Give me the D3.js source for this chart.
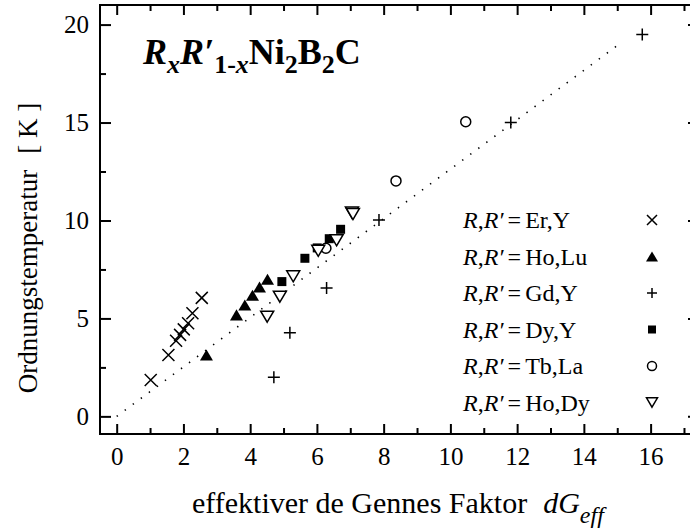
<!DOCTYPE html>
<html>
<head>
<meta charset="utf-8">
<script src="https://cdn.jsdelivr.net/npm/d3@7"></script>
<style>
  html, body { margin: 0; padding: 0; background: #fff; }
  svg { display: block; font-family: "Liberation Serif", "Times New Roman", serif; }
</style>
</head>
<body>
<svg id="chart" width="690" height="532"></svg>
<script>
// Ordering temperature vs. effective de Gennes factor for mixed RR'Ni2B2C
const erY_dG  = [1.02, 1.55, 1.78, 1.90, 2.01, 2.14, 2.27, 2.55];
const erY_T   = [1.86, 3.13, 3.86, 4.16, 4.44, 4.75, 5.26, 6.05];
const hoLu_dG = [2.69, 3.59, 3.84, 4.07, 4.28, 4.52];
const hoLu_T  = [3.13, 5.18, 5.69, 6.18, 6.60, 7.00];
const gdY_dG  = [4.71, 5.19, 6.29, 7.86, 11.81, 15.75];
const gdY_T   = [2.00, 4.27, 6.55, 10.03, 15.00, 19.50];
const dyY_dG  = [4.95, 5.64, 6.01, 6.37, 6.71];
const dyY_T   = [6.88, 8.07, 8.60, 9.07, 9.55];
const tbLa_dG = [6.27, 8.37, 10.46];
const tbLa_T  = [8.58, 12.02, 15.04];
const hoDy_dG = [4.51, 4.89, 5.29, 6.04, 6.59, 7.05, 7.08];
const hoDy_T  = [5.09, 6.11, 7.15, 8.45, 8.99, 10.40, 10.33];

const legendLabels = ["Er,Y", "Ho,Lu", "Gd,Y", "Dy,Y", "Tb,La", "Ho,Dy"];
const symbolKinds  = ["cross", "triUp", "plus", "square", "circle", "triDown"];

// guide line T = k * dG
const guideSlope = 1.262;
const guideEnd = 15.1;

const xTicksMajor = [0, 2, 4, 6, 8, 10, 12, 14, 16];
const xTicksMinor = [1, 3, 5, 7, 9, 11, 13, 15, 17];
const yTicksMajor = [0, 5, 10, 15, 20];
const yTicksMinor = [2.5, 7.5, 12.5, 17.5];

const series = [
  {dG: erY_dG, T: erY_T},
  {dG: hoLu_dG, T: hoLu_T},
  {dG: gdY_dG, T: gdY_T},
  {dG: dyY_dG, T: dyY_T},
  {dG: tbLa_dG, T: tbLa_T},
  {dG: hoDy_dG, T: hoDy_T}
];

const svg = d3.select("#chart");
const plotL = 100, plotR = 699, plotT = 5, plotB = 434;

const x = d3.scaleLinear().domain([-0.5, 17.45]).range([plotL, plotR]);
const y = d3.scaleLinear().domain([-0.9, 21]).range([plotB, plotT]);

// marker path generators, centred on their bounding box
function markerPath(kind, s) {
  const h = s / 2;
  switch (kind) {
    case "cross":  return `M${-h},${-h}L${h},${h}M${-h},${h}L${h},${-h}`;
    case "plus":   return `M${-h},0L${h},0M0,${-h}L0,${h}`;
    case "square": return `M${-h},${-h}H${h}V${h}H${-h}Z`;
    case "triUp":  { const v = h * 0.85; return `M0,${-v}L${h},${v}L${-h},${v}Z`; }
    case "triDown":{ const v = h * 0.85; return `M0,${v}L${h},${-v}L${-h},${-v}Z`; }
  }
}
function drawMarker(g, kind, cx, cy, s) {
  if (kind === "circle") {
    return g.append("circle").attr("cx", cx).attr("cy", cy).attr("r", s / 2)
      .attr("fill", "#fff").attr("stroke", "#000").attr("stroke-width", 1.5);
  }
  const p = g.append("path").attr("d", markerPath(kind, s))
    .attr("transform", `translate(${cx},${cy})`);
  if (kind === "triUp" || kind === "square") p.attr("fill", "#000").attr("stroke", "none");
  else if (kind === "triDown") p.attr("fill", "#fff").attr("stroke", "#000").attr("stroke-width", 1.5);
  else p.attr("fill", "none").attr("stroke", "#000").attr("stroke-width", 1.5);
  return p;
}

// dotted guide line
svg.append("line")
  .attr("x1", x(0)).attr("y1", y(0))
  .attr("x2", x(guideEnd)).attr("y2", y(guideSlope * guideEnd))
  .attr("stroke", "#000").attr("stroke-width", 1.6)
  .attr("stroke-dasharray", "1.4,8.6");

// data markers
const markerSize = {cross: 12, plus: 12, square: 9, circle: 10, triUp: 13, triDown: 13};
const dataG = svg.append("g");
series.forEach((s, i) => {
  const kind = symbolKinds[i];
  s.dG.forEach((v, j) => drawMarker(dataG, kind, x(v), y(s.T[j]), markerSize[kind]));
});

// axes with inward ticks
function styleAxis(g) {
  g.select(".domain").remove();
  g.selectAll(".tick line").attr("stroke", "#000").attr("stroke-width", 2);
  g.selectAll("text").attr("fill", "#000");
}
const tickFont = 25;
// bottom
svg.append("g").attr("transform", `translate(0,${plotB})`)
  .call(d3.axisBottom(x).tickValues(xTicksMajor).tickSize(-10).tickPadding(0).tickFormat(d3.format("d")))
  .call(styleAxis)
  .call(g => g.selectAll("text").attr("y", 31).attr("dy", null)
    .attr("font-size", tickFont).attr("font-family", "Liberation Serif"));
svg.append("g").attr("transform", `translate(0,${plotB})`)
  .call(d3.axisBottom(x).tickValues(xTicksMinor).tickSize(-6).tickFormat(""))
  .call(styleAxis);
// top
svg.append("g").attr("transform", `translate(0,${plotT})`)
  .call(d3.axisTop(x).tickValues(xTicksMajor).tickSize(-10).tickFormat(""))
  .call(styleAxis);
svg.append("g").attr("transform", `translate(0,${plotT})`)
  .call(d3.axisTop(x).tickValues(xTicksMinor).tickSize(-6).tickFormat(""))
  .call(styleAxis);
// left
svg.append("g").attr("transform", `translate(${plotL},0)`)
  .call(d3.axisLeft(y).tickValues(yTicksMajor).tickSize(-11).tickPadding(0).tickFormat(d3.format("d")))
  .call(styleAxis)
  .call(g => g.selectAll("text").attr("x", -11).attr("dy", "0.33em")
    .attr("font-size", tickFont).attr("font-family", "Liberation Serif"));
svg.append("g").attr("transform", `translate(${plotL},0)`)
  .call(d3.axisLeft(y).tickValues(yTicksMinor).tickSize(-6).tickFormat(""))
  .call(styleAxis);
// right
svg.append("g").attr("transform", `translate(${plotR},0)`)
  .call(d3.axisRight(y).tickValues(yTicksMajor).tickSize(-11).tickFormat(""))
  .call(styleAxis);
svg.append("g").attr("transform", `translate(${plotR},0)`)
  .call(d3.axisRight(y).tickValues(yTicksMinor).tickSize(-6).tickFormat(""))
  .call(styleAxis);

// frame
svg.append("rect")
  .attr("x", plotL).attr("y", plotT).attr("width", plotR - plotL).attr("height", plotB - plotT)
  .attr("fill", "none").attr("stroke", "#000").attr("stroke-width", 2);

// formula title
const title = svg.append("text").attr("x", 143).attr("y", 64)
  .attr("font-size", 36).attr("font-weight", "bold").attr("fill", "#000");
const sub = 9, subSize = 26;
title.append("tspan").attr("font-style", "italic").text("R");
title.append("tspan").attr("font-style", "italic").attr("font-size", subSize).attr("dy", sub).text("x");
title.append("tspan").attr("font-style", "italic").attr("dy", -sub).text("R\u2032");
title.append("tspan").attr("font-size", subSize).attr("dy", sub).text("1-");
title.append("tspan").attr("font-size", subSize).attr("font-style", "italic").text("x");
title.append("tspan").attr("dy", -sub).text("Ni");
title.append("tspan").attr("font-size", subSize).attr("dy", sub).text("2");
title.append("tspan").attr("dy", -sub).text("B");
title.append("tspan").attr("font-size", subSize).attr("dy", sub).text("2");
title.append("tspan").attr("dy", -sub).text("C");

// legend
const legendG = svg.append("g");
const legendMarkerSize = {cross: 10, plus: 10, square: 8, circle: 9, triUp: 12, triDown: 11};
legendLabels.forEach((lab, i) => {
  const yy = 220 + i * 36.5;
  const t = legendG.append("text").attr("x", 463).attr("y", yy + 8)
    .attr("font-size", 24).attr("fill", "#000");
  t.append("tspan").attr("font-style", "italic").text("R");
  t.append("tspan").text(",");
  t.append("tspan").attr("font-style", "italic").text("R\u2032");
  t.append("tspan").attr("dx", 4).text("=");
  t.append("tspan").attr("dx", 4).text(lab);
  drawMarker(legendG, symbolKinds[i], 652, yy, legendMarkerSize[symbolKinds[i]]);
});

// axis titles
const xt = svg.append("text").attr("x", 192).attr("y", 513)
  .attr("font-size", 30).attr("fill", "#000");
xt.append("tspan").text("effektiver de Gennes Faktor");
xt.append("tspan").attr("dx", 16).attr("font-style", "italic").text("dG");
xt.append("tspan").attr("font-style", "italic").attr("font-size", 24).attr("dy", 10).text("eff");

const yt = svg.append("text")
  .attr("transform", "translate(37,248) rotate(-90)")
  .attr("text-anchor", "middle").attr("font-size", 27).attr("fill", "#000");
yt.append("tspan").text("Ordnungstemperatur");
yt.append("tspan").attr("dx", 16).text("[ K ]");
</script>
</body>
</html>
